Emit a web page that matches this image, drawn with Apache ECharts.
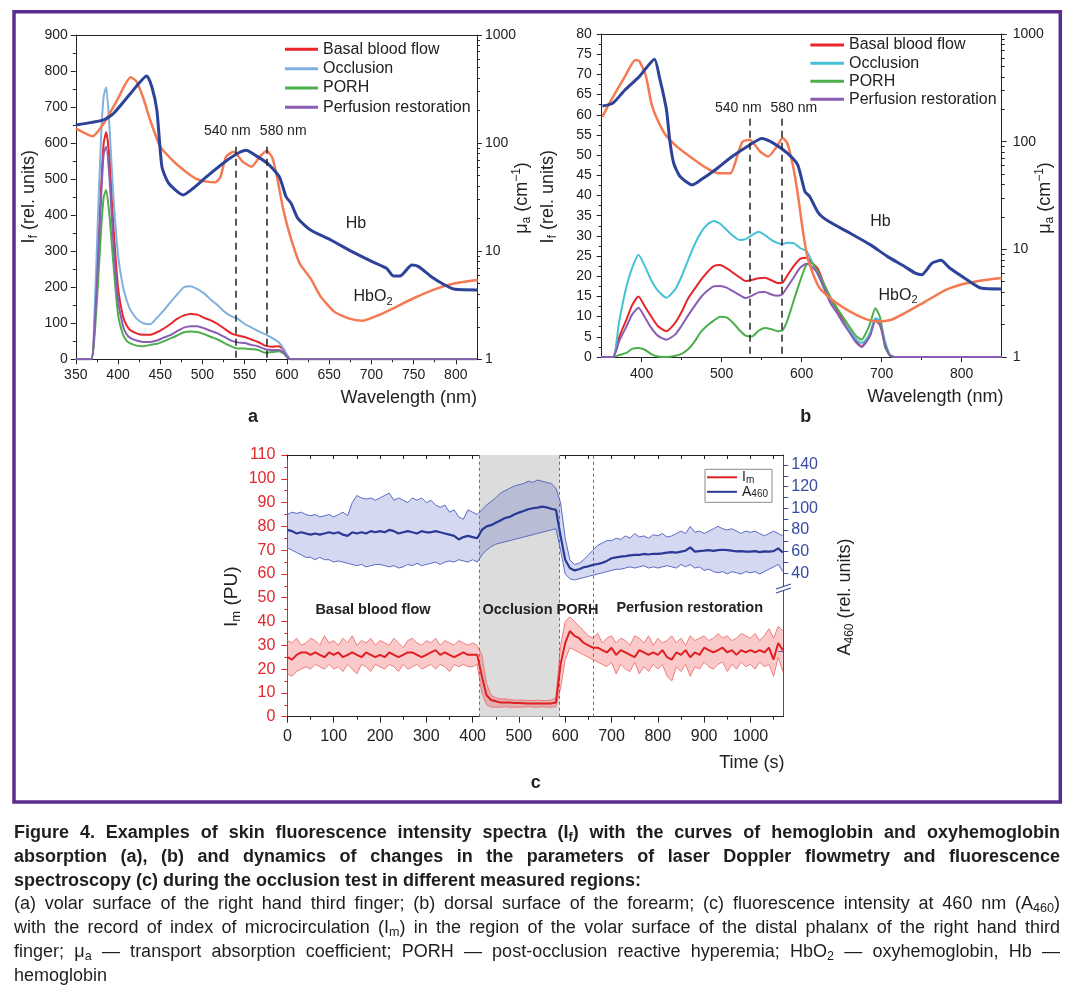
<!DOCTYPE html>
<html>
<head>
<meta charset="utf-8">
<script src="https://cdn.jsdelivr.net/npm/echarts@6.0.0/dist/echarts.min.js"></script>
<style>
html,body{margin:0;padding:0;background:#fff;}
#wrap{position:relative;width:1074px;height:997px;overflow:hidden;background:#fff;}
#chart{position:absolute;left:0;top:0;width:1074px;height:997px;}
#cap{position:absolute;left:14px;top:821px;width:1046px;font-family:'Liberation Sans',Arial,Helvetica,sans-serif;font-size:18px;line-height:23.8px;color:#1e1e1e;}
#cap div{white-space:nowrap;text-align:left;height:23.8px;}
#cap div span{display:inline-block;white-space:nowrap;transform-origin:0 50%;}
#cap div.b{font-weight:bold;}
#cap sub{font-size:70%;line-height:0;vertical-align:-0.25em;}
</style>
</head>
<body>
<div id="wrap">
<div id="chart"></div>
<div id="cap">
<div class="b"><span>Figure 4. Examples of skin fluorescence intensity spectra (I<sub>f</sub>) with the curves of hemoglobin and oxyhemoglobin</span></div>
<div class="b"><span>absorption (a), (b) and dynamics of changes in the parameters of laser Doppler flowmetry and fluorescence</span></div>
<div class="b last"><span>spectroscopy (c) during the occlusion test in different measured regions:</span></div>
<div><span>(a) volar surface of the right hand third finger; (b) dorsal surface of the forearm; (c) fluorescence intensity at 460 nm (A<sub>460</sub>)</span></div>
<div><span>with the record of index of microcirculation (I<sub>m</sub>) in the region of the volar surface of the distal phalanx of the right hand third</span></div>
<div><span>finger; μ<sub>a</sub> — transport absorption coefficient; PORH — post-occlusion reactive hyperemia; HbO<sub>2</sub> — oxyhemoglobin, Hb —</span></div>
<div class="last"><span>hemoglobin</span></div>
</div>
</div>
<script>
// ================= DATA =================
// ---- Panel a: fluorescence spectra (rel. units) ----
const wlA    = [350, 368, 372, 376, 380, 383, 386, 390, 394, 400, 406, 410, 414, 422, 430, 438, 446, 454, 462, 470, 478, 486, 494, 502, 510, 518, 526, 534, 542, 550, 558, 566, 574, 582, 590, 596, 600, 604, 825];
const basalA = [0, 0, 90, 280, 480, 600, 630, 555, 390, 200, 118, 95, 82, 72, 68, 68, 75, 85, 98, 112, 122, 126, 124, 115, 108, 98, 85, 72, 66, 62, 55, 48, 38, 35, 36, 28, 12, 0, 0];
const occA   = [0, 0, 120, 380, 620, 730, 755, 640, 470, 290, 200, 166, 140, 113, 100, 97, 115, 135, 158, 180, 200, 203, 195, 183, 165, 150, 132, 120, 112, 98, 88, 78, 70, 60, 48, 30, 12, 0, 0];
const porhA  = [0, 0, 60, 200, 360, 450, 470, 395, 280, 125, 68, 52, 45, 38, 36, 40, 43, 50, 58, 66, 75, 77, 76, 70, 62, 55, 45, 36, 30, 30, 28, 26, 18, 20, 22, 16, 6, 0, 0];
const perfA  = [0, 0, 80, 260, 450, 570, 590, 500, 340, 165, 92, 70, 60, 52, 48, 48, 52, 60, 67, 78, 88, 92, 92, 86, 79, 72, 62, 52, 47, 45, 40, 36, 28, 26, 26, 20, 8, 0, 0];
// ---- Panel a: absorption (cm^-1) ----
const hbWlA   = [350, 383, 395, 415, 434, 440, 446, 452, 460, 477, 489, 505, 526, 542, 552, 562, 577, 591, 599, 605, 613, 628, 652, 677, 701, 718, 726, 734, 748, 756, 771, 787, 799, 826];
const hbA     = [147, 164, 189, 289, 418, 332, 202, 60.5, 42.5, 33.1, 38.2, 48.9, 66.4, 80.5, 85.8, 77.6, 65, 48.9, 31.9, 27.7, 20.1, 15.7, 12.7, 9.9, 8.0, 6.95, 5.9, 5.9, 7.45, 7.2, 5.8, 4.87, 4.44, 4.38];
const hbo2WlA = [350, 370, 383, 399, 415, 422, 430, 438, 450, 464, 478, 492, 505, 515, 521, 528, 537, 548, 558, 568, 576, 583, 589, 595, 603, 615, 628, 640, 656, 673, 689, 709, 730, 750, 775, 799, 826];
const hbo2A   = [137, 116, 152, 250, 406, 370, 260, 164, 93, 70, 56, 47, 44, 43.4, 48, 75, 83.2, 67, 60.5, 75, 85, 72.3, 45.6, 25.8, 14.6, 7.73, 5.6, 3.8, 2.76, 2.39, 2.27, 2.57, 3.07, 3.67, 4.44, 5.05, 5.42];
const dashA = [540, 576];
const dashTopA = 590;

// ---- Panel b: fluorescence spectra ----
const wlB    = [350, 364, 372, 381, 388, 396, 404, 412, 420, 431, 442, 450, 458, 466, 474, 482, 490, 498, 506, 514, 522, 530, 538, 546, 554, 562, 570, 576, 582, 590, 598, 606, 612, 620, 628, 636, 644, 652, 660, 668, 675, 680, 686, 692, 698, 704, 710, 716, 850];
const basalB = [0, 0, 5, 9.3, 12.8, 15, 12.5, 10, 7.7, 6.4, 8.5, 11.2, 14.5, 16.8, 19.1, 21, 22.5, 22.8, 22, 20.9, 19.8, 18.8, 19.1, 19.5, 19.6, 19, 18.3, 18.4, 20.2, 22.5, 24.3, 24.6, 23.5, 21.9, 18, 14.4, 11.8, 9, 6.4, 4, 2.6, 3.8, 6, 9.2, 8.3, 3.5, 0.5, 0, 0];
const occB   = [0, 0, 9, 17.5, 22, 25.3, 22.5, 19, 16.5, 14.7, 16.8, 20, 24, 27.8, 30.8, 32.8, 33.7, 33, 31.5, 30, 29, 29.2, 30.2, 31, 30.2, 29, 28.2, 28, 28.3, 28.2, 27, 26.2, 24, 20.5, 17, 13.6, 11, 8.6, 6.5, 4.4, 3.5, 4.2, 6.2, 9.6, 9, 4, 0.6, 0, 0];
const porhB  = [0, 0, 0.5, 1, 2, 2.2, 1.8, 0.7, 0.1, 0, 0.3, 0.8, 1.9, 3.8, 6.2, 7.8, 9, 10, 9.8, 8.5, 6.7, 5.3, 5.1, 6.5, 7.2, 6.9, 6.4, 6.6, 9, 14, 18.8, 22.9, 23.3, 21.2, 18, 14.8, 12.2, 9.8, 7.4, 5.2, 4.3, 5.8, 8.6, 12.1, 9.8, 2.5, 0.5, 0, 0];
const perfB  = [0, 0, 4, 7.6, 10.5, 12.2, 9.8, 7.2, 5.3, 4.3, 5.6, 7.8, 10.3, 12.6, 14.8, 16.4, 17.5, 17.6, 17.2, 16.3, 15.4, 14.6, 15.2, 16, 16.1, 15.5, 15.2, 15.6, 17.3, 19.7, 22.1, 23.1, 22.5, 20.7, 17, 13.3, 11, 8.3, 6, 3.6, 2.5, 3.5, 5.5, 9, 7.8, 3.2, 0.4, 0, 0];
// ---- Panel b: absorption ----
const hbWlB   = [351, 364, 379, 397, 416, 422, 431, 435, 440, 448, 463, 474, 492, 513, 535, 550, 565, 582, 595, 604, 610, 621, 634, 660, 686, 707, 729, 742, 750, 763, 774, 785, 807, 824, 850];
const hbB     = [214, 228, 302, 402, 582, 402, 197, 104, 63, 47.5, 39.7, 44.2, 54.8, 72.8, 93.3, 107, 96.5, 78.2, 60.9, 34.5, 31, 21.7, 18.1, 14.2, 11, 8.6, 6.9, 6.0, 5.8, 7.45, 7.9, 6.7, 5.2, 4.37, 4.28];
const hbo2WlB = [351, 362, 379, 392, 397, 405, 412, 418, 429, 444, 461, 479, 496, 511, 520, 526, 535, 548, 558, 569, 576, 582, 589, 595, 602, 608, 621, 638, 660, 677, 694, 712, 729, 755, 781, 807, 832, 850];
const hbo2B   = [171, 244, 402, 574, 562, 415, 228, 170, 118, 90, 72, 58, 51, 51, 76, 100, 104, 81, 72.8, 90, 108, 96.8, 60, 33, 14, 8, 4.53, 3.4, 2.65, 2.3, 2.14, 2.22, 2.56, 3.29, 4.22, 4.86, 5.22, 5.41];
const dashB = [535, 575];
const dashTopB = 59;

// ---- Panel c: time course ----
const timeC = [0,10,20,30,40,50,60,70,80,90,100,110,120,130,140,150,160,170,180,190,200,210,220,230,240,250,260,270,280,290,300,310,320,330,340,350,360,370,380,390,400,410,420,430,440,450,460,470,480,490,500,510,520,530,540,550,560,570,580,590,600,610,620,630,640,650,660,670,680,690,700,710,720,730,740,750,760,770,780,790,800,810,820,830,840,850,860,870,880,890,900,910,920,930,940,950,960,970,980,990,1000,1010,1020,1030,1040,1050,1060,1070];
const imMean = [25,24,26,27,27,26,27,26,25,27, 26,27,25,26,27,26,25,27,26,25, 26,25,27,26,25,26,27,27,26,25, 26,27,28,26,27,26,25,26,27,26, 26,26,17,9,7,6.5,6,6,6,5.8, 5.8,5.7,5.6,5.5,5.6,5.5,5.5,5.6,6.0,22, 31,36,34,33,31,30,29,29,28,27, 29,26,28,27,26,25,28,27,26,27, 26,28,25,24,27,26,28,25,27,26, 29,28,27,28,29,27,28,26,28,27, 28,27,28,27,29,24,31,28];
const imUp   = [32,31,33,30,31,33,32,30,34,31, 32,30,33,31,34,30,32,31,33,30, 32,31,30,33,31,29,32,33,31,30, 32,31,33,30,32,31,30,32,31,30, 31,30,26,14,9,8,7.5,7.5,7.2,7, 7,7,6.8,6.8,7,6.8,6.8,7,8,30, 40,42,40,38,36,34,33,35,31,33, 34,31,33,32,30,34,33,31,34,30, 33,31,32,34,31,33,30,34,32,33, 34,32,33,35,33,34,32,33,35,34, 33,35,32,34,37,33,38,36];
const imLo   = [18,17,19,20,21,20,22,21,20,22, 20,21,19,22,20,18,22,21,19,22, 21,20,22,21,19,22,20,21,22,20, 21,22,20,22,21,19,22,21,22,21, 21,22,10,5,4,4,4,4.2,4,4, 4,4,4.2,4,4,4.2,4,4,4.2,12, 24,29,28,27,26,25,24,23,22,21, 23,18,22,20,19,23,18,21,19,22, 20,22,17,15,21,19,22,17,21,20, 23,21,20,22,23,19,22,20,23,21, 22,20,23,21,22,17,25,19];
const a460Mean = [80.1,79.0,76.8,77.9,76.8,75.7,76.8,75.7,76.8,77.9, 76.8,77.9,75.7,74.6,77.9,76.8,77.9,76.8,79.0,77.9, 79.0,77.9,80.1,79.0,76.8,77.9,79.0,77.9,76.8,79.0, 77.9,77.9,79.0,77.9,76.8,75.7,74.6,71.3,73.5,74.6, 73.5,72.4,80.1,83.4,84.5,86.7,88.9,91.1,92.1,94.3, 96.1,97.6,99.2,100.1,100.7,101.6,100.9,99.6,98.7,74.6, 52.6,44.9,42.7,43.8,45.6,46.5,47.8,48.6,49.7,51.5, 53.9,54.8,55.5,55.9,56.6,57.0,57.0,57.9,57.4,58.1, 57.9,58.5,59.2,59.6,59.2,60.1,60.9,64.0,60.1,60.5, 60.9,61.4,60.7,61.4,61.8,61.4,60.9,60.3,60.5,60.1, 60.1,60.5,59.6,60.3,60.1,60.5,63.1,59.2];
const a460Up   = [94.3,96.5,95.4,96.5,94.3,93.2,94.3,92.1,93.2,94.3, 92.1,94.3,96.5,93.2,105.3,111.9,109.7,108.6,109.7,107.5, 109.7,111.9,114.1,107.5,109.7,107.5,105.3,109.7,107.5,109.7, 105.3,107.5,103.1,100.9,103.1,96.5,98.7,92.1,89.9,98.7, 96.5,94.3,98.7,103.1,106.4,109.7,114.1,116.3,118.5,120.7, 121.8,122.9,125.1,124.0,126.2,125.1,124.0,122.9,118.5,105.3, 72.4,52.6,48.2,49.3,52.6,57.0,61.4,65.8,68.0,70.2, 70.2,72.4,71.3,74.6,72.4,76.8,73.5,74.6,72.4,75.7, 74.6,76.8,73.5,74.6,76.8,79.0,76.8,83.4,77.9,79.0, 76.8,79.0,81.2,83.4,81.2,80.1,81.2,79.0,76.8,79.0, 77.9,79.0,76.8,74.6,76.8,79.0,76.8,74.6];
const a460Lo   = [63.6,61.4,59.2,57.0,54.8,54.8,52.6,54.8,52.6,52.6, 50.4,51.5,50.4,49.3,48.2,47.1,48.2,46.0,47.1,48.2, 48.2,47.1,46.0,47.1,44.9,46.0,48.2,47.1,49.3,47.1, 48.2,49.3,50.4,48.2,50.4,51.5,50.4,52.6,51.5,50.4, 52.6,50.4,57.0,61.4,64.7,66.9,68.0,69.1,70.2,71.3, 72.4,73.5,74.6,75.7,76.8,77.9,79.0,80.1,81.2,61.4, 39.4,35.0,33.9,35.0,36.1,37.2,38.3,39.4,40.5,41.6, 42.7,43.8,43.8,44.9,46.0,44.9,46.0,47.1,44.9,46.0, 44.9,46.0,47.1,46.0,44.9,48.2,46.0,48.2,44.9,46.0, 42.7,43.8,41.6,40.5,41.6,39.4,41.6,40.5,39.4,41.6, 40.5,41.6,39.4,41.6,43.8,46.0,48.2,41.6];
const occlusionC = [415, 588];
const phaseLinesC = [415, 588, 660];

// ---- tick labels ----
const ticksAX  = [350, 400, 450, 500, 550, 600, 650, 700, 750, 800];
const minorAX  = [375, 425, 475, 525, 575, 625, 675, 725, 775];
const ticksBX  = [400, 500, 600, 700, 800];
const minorBX  = [450, 550, 650, 750];
const ticksCX  = [0, 100, 200, 300, 400, 500, 600, 700, 800, 900, 1000];
const minorCX  = [50, 150, 250, 350, 450, 550, 650, 750, 850, 950, 1050];
const topCX    = [0, 50, 100, 150, 200, 250, 300, 350, 400, 450, 500, 550, 600, 650, 700, 750, 800, 850, 900, 950, 1000, 1050];
const ticksCR  = [40, 60, 80, 100, 120, 140];
const ticksCRm = [40, 50, 60, 70, 80, 90, 100, 110, 120, 130, 140];
const lowTickCR = [-32.4];
const logMinor = [2, 3, 4, 5, 6, 7, 8, 9, 20, 30, 40, 50, 60, 70, 80, 90, 200, 300, 400, 500, 600, 700, 800, 900];

// ================= STYLE =================
const FONT = "'Liberation Sans', Arial, Helvetica, sans-serif";
const INK = '#222';
const RED = '#e8252a';
const C_OCC_A = '#7fb1df';
const C_OCC_B = '#45c1d6';
const C_PORH = '#4cae4c';
const C_PERF = '#8a5db5';
const C_HB = '#2c4399';
const C_HBO2 = '#f47a52';
const C_RED_C = '#e3262d';
const C_BLUE_C = '#3a49a3';

function plainNum(v) { return String(Math.round(v * 1000) / 1000); }

function axis(gridIndex, type, min, max, position, o) {
  o = o || {};
  const color = o.color || INK;
  const a = {
    gridIndex: gridIndex, type: type, min: min, max: max, position: position,
    axisLine: {show: o.line !== false, onZero: false, lineStyle: {color: color, width: 1}},
    axisTick: {show: !!(o.ticks || o.interval), inside: !!o.inside, length: o.tickLen || 5, lineStyle: {color: color, width: 1}},
    axisLabel: {show: !!o.labels, color: color, fontSize: o.fontSize || 14, fontFamily: FONT, margin: o.margin || 8, formatter: plainNum},
    splitLine: {show: false},
    minorTick: {show: false},
    minorSplitLine: {show: false}
  };
  if (type === 'log') a.logBase = 10;
  if (o.interval) a.interval = o.interval;
  if (Array.isArray(o.ticks)) a.axisTick.customValues = o.ticks;
  if (Array.isArray(o.labels)) a.axisLabel.customValues = o.labels;
  if (o.minor) a.minorTick = {show: true, splitNumber: o.minor, length: 3, lineStyle: {color: color, width: 1}};
  return a;
}

const logMinorPos = logMinor.map(function (v) { return Math.log10(v); });

const xAxis = [
  axis(0, 'value', 350, 825, 'bottom', {ticks: ticksAX, labels: ticksAX, margin: 9}),
  axis(0, 'value', 350, 825, 'bottom', {line: false, ticks: minorAX, tickLen: 3}),
  axis(0, 'value', 350, 825, 'top', {}),
  axis(1, 'value', 350, 850, 'bottom', {ticks: ticksBX, labels: ticksBX, margin: 10}),
  axis(1, 'value', 350, 850, 'bottom', {line: false, ticks: minorBX, tickLen: 3}),
  axis(1, 'value', 350, 850, 'top', {}),
  axis(2, 'value', 0, 1071, 'bottom', {ticks: ticksCX, labels: ticksCX, tickLen: 6, fontSize: 16, margin: 12}),
  axis(2, 'value', 0, 1071, 'bottom', {line: false, ticks: minorCX, tickLen: 3}),
  axis(2, 'value', 0, 1071, 'top', {ticks: topCX, inside: true, tickLen: 4})
];
const yAxis = [
  axis(0, 'value', 0, 900, 'left', {interval: 100, labels: true, minor: 2, margin: 8}),
  axis(0, 'log', 1, 1000, 'right', {ticks: true, labels: true, margin: 8}),
  axis(0, 'value', 0, 3, 'right', {line: false, ticks: logMinorPos, tickLen: 3}),
  axis(1, 'value', 0, 80, 'left', {interval: 5, labels: true, minor: 2, margin: 10}),
  axis(1, 'log', 1, 1000, 'right', {ticks: true, labels: true, margin: 11}),
  axis(1, 'value', 0, 3, 'right', {line: false, ticks: logMinorPos, tickLen: 3}),
  axis(2, 'value', 0, 110, 'left', {interval: 10, labels: true, minor: 2, color: C_RED_C, fontSize: 16, margin: 12, tickLen: 6}),
  axis(2, 'value', -92.4, 149.3, 'right', {ticks: ticksCRm, labels: ticksCR, color: C_BLUE_C, fontSize: 16, margin: 8, tickLen: 5}),
  axis(2, 'value', -92.4, 149.3, 'right', {line: false, ticks: lowTickCR, inside: true, color: C_BLUE_C, tickLen: 5})
];

function pairs(xs, ys) { return xs.map(function (x, i) { return [x, ys[i]]; }); }
function line(name, xs, ys, color, width, xi, yi, extra) {
  return Object.assign({
    name: name, type: 'line', xAxisIndex: xi, yAxisIndex: yi, data: pairs(xs, ys),
    showSymbol: false, symbol: 'none', smooth: 0.2, silent: true, z: 3,
    lineStyle: {color: color, width: width}, itemStyle: {color: color}
  }, extra || {});
}
function dashMarks(xs, top) {
  return {
    silent: true, symbol: ['none', 'none'], label: {show: false},
    lineStyle: {type: [7, 5], color: INK, width: 1.5},
    emphasis: {disabled: true},
    data: xs.map(function (x) { return [{coord: [x, top]}, {coord: [x, 0]}]; })
  };
}
function band(xs, lo, hi, fill, xi, yi) {
  return {
    type: 'custom', xAxisIndex: xi, yAxisIndex: yi, silent: true, z: 2, data: [0],
    renderItem: function (params, api) {
      const pts = [];
      for (let i = 0; i < xs.length; i++) pts.push(api.coord([xs[i], hi[i]]));
      for (let i = xs.length - 1; i >= 0; i--) pts.push(api.coord([xs[i], lo[i]]));
      return {type: 'polygon', shape: {points: pts}, style: {fill: fill}};
    }
  };
}

const series = [
  // panel a
  line('Basal blood flow', wlA, basalA, RED, 2, 0, 0, {markLine: dashMarks(dashA, dashTopA)}),
  line('Occlusion', wlA, occA, C_OCC_A, 2, 0, 0),
  line('PORH', wlA, porhA, C_PORH, 2, 0, 0),
  line('Perfusion restoration', wlA, perfA, C_PERF, 2, 0, 0),
  line('Hb a', hbWlA, hbA, C_HB, 3, 0, 1, {z: 4}),
  line('HbO2 a', hbo2WlA, hbo2A, C_HBO2, 2.5, 0, 1),
  // panel b
  line('Basal blood flow ', wlB, basalB, RED, 2, 3, 3, {markLine: dashMarks(dashB, dashTopB)}),
  line('Occlusion ', wlB, occB, C_OCC_B, 2, 3, 3),
  line('PORH ', wlB, porhB, C_PORH, 2, 3, 3),
  line('Perfusion restoration ', wlB, perfB, C_PERF, 2, 3, 3),
  line('Hb b', hbWlB, hbB, C_HB, 3, 3, 4, {z: 4}),
  line('HbO2 b', hbo2WlB, hbo2B, C_HBO2, 2.5, 3, 4),
  // panel c background phases
  {
    name: 'phases', type: 'line', xAxisIndex: 6, yAxisIndex: 6, data: pairs(timeC, imMean),
    showSymbol: false, symbol: 'none', silent: true, z: 1, lineStyle: {opacity: 0, width: 0},
    markArea: {silent: true, itemStyle: {color: '#dcdcdc'}, data: [[{xAxis: occlusionC[0]}, {xAxis: occlusionC[1]}]]},
    markLine: {silent: true, symbol: ['none', 'none'], label: {show: false}, lineStyle: {type: [3, 3], color: '#6f6f6f', width: 1},
      data: phaseLinesC.map(function (x) { return {xAxis: x}; })}
  },
  band(timeC, imLo, imUp, 'rgba(236,60,60,0.27)', 6, 6),
  band(timeC, a460Lo, a460Up, 'rgba(60,80,190,0.22)', 6, 7),
  line('Im upper', timeC, imUp, '#f07a7a', 1, 6, 6, {smooth: false}),
  line('Im lower', timeC, imLo, '#f07a7a', 1, 6, 6, {smooth: false}),
  line('A460 upper', timeC, a460Up, '#5b69c3', 1, 6, 7, {smooth: false}),
  line('A460 lower', timeC, a460Lo, '#5b69c3', 1, 6, 7, {smooth: false}),
  line('Im', timeC, imMean, '#e01f22', 2, 6, 6, {smooth: false, z: 5}),
  line('A460', timeC, a460Mean, '#2a3995', 2.2, 6, 7, {smooth: false, z: 5})
];

function legendBlock(names, left, top, lh, iw) {
  return {
    data: names, orient: 'vertical', left: left, top: top, padding: 0, itemGap: 0,
    itemWidth: iw, itemHeight: 3, icon: 'rect', selectedMode: false,
    textStyle: {fontSize: 16, fontFamily: FONT, color: INK, lineHeight: lh}
  };
}
const legends = [
  legendBlock(['Basal blood flow', 'Occlusion', 'PORH', 'Perfusion restoration'], 285, 39.7, 19.3, 33),
  legendBlock(['Basal blood flow ', 'Occlusion ', 'PORH ', 'Perfusion restoration '], 810.4, 36, 18.1, 33.6),
  {
    data: ['Im', 'A460'], orient: 'vertical', left: 705, top: 469.3, itemGap: 0, padding: [1, 4, 3, 2],
    itemWidth: 30, itemHeight: 2, icon: 'rect', selectedMode: false,
    borderColor: '#8a8a8a', borderWidth: 1, backgroundColor: '#fff',
    formatter: function (n) { return n === 'Im' ? '{n|I}{s|m}' : '{n|A}{s|460}'; },
    textStyle: {rich: {
      n: {fontSize: 14, lineHeight: 15, fontFamily: FONT, color: INK},
      s: {fontSize: 10, lineHeight: 9, verticalAlign: 'bottom', fontFamily: FONT, color: INK}
    }}
  }
];

function rich(size, color) {
  const sm = Math.round(size * 0.68);
  return {
    n: {fontSize: size, lineHeight: size + 4, fontFamily: FONT, fill: color || INK},
    s: {fontSize: sm, lineHeight: sm, verticalAlign: 'bottom', fontFamily: FONT, fill: color || INK},
    p: {fontSize: sm, lineHeight: sm, verticalAlign: 'top', fontFamily: FONT, fill: color || INK}
  };
}
function txt(x, y, text, o) {
  o = o || {};
  const st = {
    text: text, x: 0, y: 0, fill: o.color || INK, fontSize: o.size || 14, fontFamily: FONT,
    fontWeight: o.bold ? 'bold' : 'normal', align: o.align || 'center', verticalAlign: 'middle'
  };
  if (o.rich) st.rich = o.rich;
  return {type: 'text', x: x, y: y, rotation: o.rot || 0, z: 100, silent: true, style: st};
}
const R90 = Math.PI / 2;
const graphics = [
  {type: 'rect', z: 0, silent: true, shape: {x: 14, y: 11.7, width: 1046.3, height: 790.3}, style: {fill: 'none', stroke: '#5b2c8f', lineWidth: 3.5}},
  // panel a annotations
  txt(227.3, 130.7, '540 nm'), txt(283.2, 130.7, '580 nm'),
  txt(356, 223.3, 'Hb', {size: 16}),
  txt(373, 297, '{n|HbO}{s|2}', {rich: rich(16)}),
  txt(477, 398, 'Wavelength (nm)', {size: 18, align: 'right'}),
  txt(253, 416.7, 'a', {size: 18, bold: true}),
  txt(29, 196.7, '{n|I}{s|f}{n| (rel. units)}', {rot: R90, rich: rich(18)}),
  txt(521.7, 198, '{n|μ}{s|a}{n| (cm}{p|−1}{n|)}', {rot: R90, rich: rich(18)}),
  // panel b annotations
  txt(738.4, 108.3, '540 nm'), txt(793.9, 108.3, '580 nm'),
  txt(880.5, 221.7, 'Hb', {size: 16}),
  txt(898, 295.5, '{n|HbO}{s|2}', {rich: rich(16)}),
  txt(1003.6, 396.7, 'Wavelength (nm)', {size: 18, align: 'right'}),
  txt(805.8, 416.7, 'b', {size: 18, bold: true}),
  txt(548, 196.7, '{n|I}{s|f}{n| (rel. units)}', {rot: R90, rich: rich(18)}),
  txt(1045, 198, '{n|μ}{s|a}{n| (cm}{p|−1}{n|)}', {rot: R90, rich: rich(18)}),
  // panel c annotations
  txt(373, 610, 'Basal blood flow', {size: 14.5, bold: true}),
  txt(540.5, 610, 'Occlusion PORH', {size: 14.5, bold: true}),
  txt(689.7, 607.7, 'Perfusion restoration', {size: 14.5, bold: true}),
  txt(784.5, 763.3, 'Time (s)', {size: 18, align: 'right'}),
  txt(535.7, 783.3, 'c', {size: 18, bold: true}),
  txt(231.7, 596.7, '{n|I}{s|m}{n| (PU)}', {rot: R90, rich: rich(19)}),
  txt(845, 597, '{n|A}{s|460}{n| (rel. units)}', {rot: R90, rich: rich(18)}),
  // axis break on the right axis of panel c
  {type: 'rect', z: 101, silent: true, shape: {x: 781.3, y: 586.8, width: 4, height: 3.6}, style: {fill: '#fff'}},
  {type: 'line', z: 102, silent: true, shape: {x1: 776, y1: 589, x2: 791, y2: 584}, style: {stroke: C_BLUE_C, lineWidth: 1.2}},
  {type: 'line', z: 102, silent: true, shape: {x1: 776, y1: 593, x2: 791, y2: 588}, style: {stroke: C_BLUE_C, lineWidth: 1.2}}
];

const option = {
  animation: false,
  backgroundColor: 'transparent',
  textStyle: {fontFamily: FONT, color: INK},
  grid: [
    {left: 75.8, top: 35, width: 401.1, height: 324.3},
    {left: 601.7, top: 34, width: 400, height: 323},
    {left: 287.4, top: 455, width: 495.9, height: 261.7}
  ],
  xAxis: xAxis,
  yAxis: yAxis,
  legend: legends,
  series: series,
  graphic: graphics
};

const chart = echarts.init(document.getElementById('chart'), null, {renderer: 'canvas'});
chart.setOption(option);

// ---- caption: fit each full line to the text block width (justified look) ----
(function fitCaption() {
  const W = 1046;
  const rows = Array.prototype.slice.call(document.querySelectorAll('#cap div'));
  const scales = [];
  rows.forEach(function (d) {
    const sp = d.firstElementChild;
    const w = sp.getBoundingClientRect().width;
    if (!d.classList.contains('last')) {
      if (w > W) {
        sp.style.transform = 'scaleX(' + (W / w) + ')';
        scales.push(W / w);
      } else {
        const n = (sp.textContent.match(/ /g) || []).length;
        if (n) sp.style.wordSpacing = ((W - w) / n) + 'px';
        scales.push(1);
      }
    }
  });
  const avg = scales.reduce(function (a, b) { return a + b; }, 0) / (scales.length || 1);
  rows.forEach(function (d) {
    if (d.classList.contains('last') && avg < 1) d.firstElementChild.style.transform = 'scaleX(' + avg + ')';
  });
})();
</script>
</body>
</html>
